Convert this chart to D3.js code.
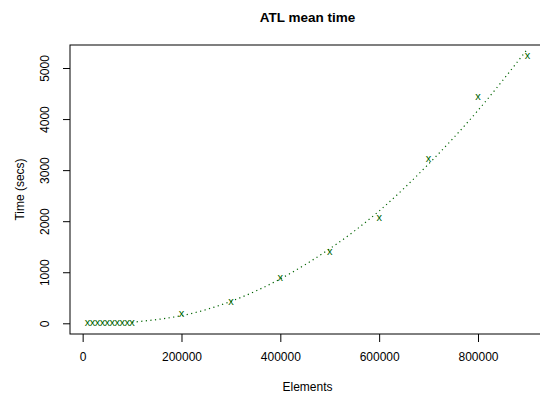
<!DOCTYPE html>
<html>
<head>
<meta charset="utf-8">
<script src="https://cdn.jsdelivr.net/npm/d3@7"></script>
<style>
  body { margin: 0; background: #fff; }
  text { font-family: "Liberation Sans", Arial, sans-serif; fill: #000; }
</style>
</head>
<body>
<svg id="chart" width="540" height="394"></svg>
<script>
// measured points (pch = "x")
const elements = [10000, 20000, 30000, 40000, 50000, 60000, 70000, 80000, 90000, 100000,
                  200000, 300000, 400000, 500000, 600000, 700000, 800000, 900000];
const meanTime = [0.2, 0.5, 1, 2, 3, 4, 5, 7, 9, 11,
                  176, 424, 894, 1392, 2051, 3216, 4424, 5241];

// dotted fit curve
const fitElements = [100000, 200000, 300000, 400000, 500000, 600000, 700000, 800000, 900000];
const fitTime = [20, 150, 430, 870, 1460, 2200, 3120, 4170, 5370];

const xTicks = [0, 200000, 400000, 600000, 800000];
const yTicks = [0, 1000, 2000, 3000, 4000, 5000];

const svg = d3.select("#chart");
const plotL = 70, plotR = 545, plotT = 45, plotB = 334;
const green = "#006400";

// R style 4% range extension
function ext(arr) {
    const lo = d3.min(arr), hi = d3.max(arr), r = hi - lo;
    return [lo - 0.04 * r, hi + 0.04 * r];
}
const x = d3.scaleLinear().domain(ext(elements)).range([plotL, plotR]);
const y = d3.scaleLinear().domain(ext(meanTime)).range([plotB, plotT]);

// box
svg.append("rect")
    .attr("x", plotL).attr("y", plotT)
    .attr("width", plotR - plotL).attr("height", plotB - plotT)
    .attr("fill", "none").attr("stroke", "#000").attr("stroke-width", 1);

// x axis
const xAxis = svg.append("g")
    .attr("transform", `translate(0,${plotB})`)
    .call(d3.axisBottom(x).tickValues(xTicks).tickFormat(d3.format("d")).tickSize(8).tickPadding(10));
xAxis.select(".domain").remove();
xAxis.selectAll("text").attr("font-size", 12).attr("font-family", "Liberation Sans, Arial, sans-serif");

// y axis, labels parallel to the axis
const yAxis = svg.append("g")
    .attr("transform", `translate(${plotL},0)`)
    .call(d3.axisLeft(y).tickValues(yTicks).tickFormat(d3.format("d")).tickSize(7));
yAxis.select(".domain").remove();
yAxis.selectAll("text")
    .attr("font-size", 12)
    .attr("font-family", "Liberation Sans, Arial, sans-serif")
    .attr("text-anchor", "middle")
    .attr("dy", null)
    .attr("x", null)
    .attr("transform", "translate(-21,0) rotate(-90)");

// fit curve
const line = d3.line()
    .x((d, i) => x(fitElements[i]))
    .y(d => y(d))
    .curve(d3.curveNatural);
svg.append("path")
    .datum(fitTime)
    .attr("d", line)
    .attr("fill", "none")
    .attr("stroke", green)
    .attr("stroke-width", 1.2)
    .attr("stroke-dasharray", "1.2,3.4");

// points
svg.append("g").selectAll("text")
    .data(meanTime)
    .join("text")
    .attr("x", (d, i) => x(elements[i]))
    .attr("y", d => y(d) + 2.9)
    .attr("text-anchor", "middle")
    .attr("font-size", 11)
    .style("fill", green)
    .text("x");

// titles
svg.append("text")
    .attr("x", (plotL + plotR) / 2).attr("y", 21.5)
    .attr("text-anchor", "middle")
    .attr("font-size", 13.5).attr("font-weight", "bold")
    .text("ATL mean time");

svg.append("text")
    .attr("x", (plotL + plotR) / 2).attr("y", 391)
    .attr("text-anchor", "middle")
    .attr("font-size", 12)
    .text("Elements");

svg.append("text")
    .attr("transform", `translate(24,${(plotT + plotB) / 2}) rotate(-90)`)
    .attr("text-anchor", "middle")
    .attr("font-size", 12)
    .text("Time (secs)");
</script>
</body>
</html>
